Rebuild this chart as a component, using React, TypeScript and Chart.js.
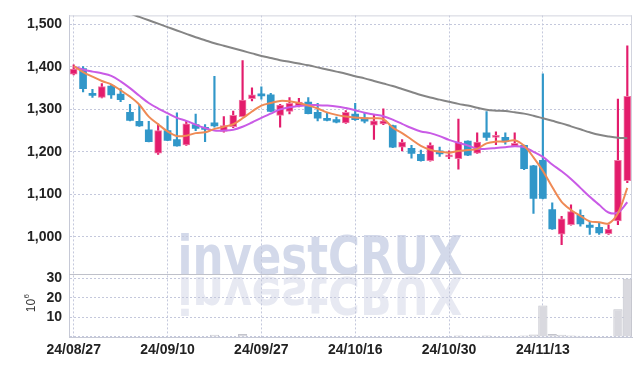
import React, { useEffect, useRef } from 'react';
import { Chart, registerables } from 'chart.js';

Chart.register(...registerables);

const dates = [
  '24/08/27', '24/08/28', '24/08/29', '24/08/30', '24/09/02', '24/09/03', '24/09/04', '24/09/05', '24/09/06', '24/09/09',
  '24/09/10', '24/09/11', '24/09/12', '24/09/13', '24/09/19', '24/09/20', '24/09/23', '24/09/24', '24/09/25', '24/09/26',
  '24/09/27', '24/09/30', '24/10/02', '24/10/04', '24/10/07', '24/10/08', '24/10/10', '24/10/11', '24/10/14', '24/10/15',
  '24/10/16', '24/10/17', '24/10/18', '24/10/21', '24/10/22', '24/10/23', '24/10/24', '24/10/25', '24/10/28', '24/10/29',
  '24/10/30', '24/10/31', '24/11/01', '24/11/04', '24/11/05', '24/11/06', '24/11/07', '24/11/08', '24/11/11', '24/11/12',
  '24/11/13', '24/11/14', '24/11/15', '24/11/18', '24/11/19', '24/11/20', '24/11/21', '24/11/22', '24/11/25', '24/11/26',
];

const tickDates = ['24/08/27', '24/09/10', '24/09/27', '24/10/16', '24/10/30', '24/11/13'];

const opens = [
  1383, 1396, 1336, 1328, 1355, 1336, 1293, 1272, 1252, 1197,
  1250, 1229, 1216, 1264, 1256, 1268, 1248, 1259, 1283, 1325,
  1334, 1334, 1286, 1295, 1309, 1317, 1293, 1279, 1276, 1268,
  1289, 1280, 1263, 1266, 1262, 1211, 1208, 1194, 1179, 1202,
  1188, 1184, 1225, 1197, 1245, 1234, 1234, 1213, 1215, 1167,
  1180, 1064, 1006, 1028, 1050, 1027, 1022, 1007, 1037, 1132,
];
const highs = [
  1405, 1401, 1347, 1361, 1358, 1349, 1312, 1310, 1272, 1266,
  1284, 1292, 1272, 1289, 1264, 1378, 1283, 1296, 1415, 1351,
  1353, 1338, 1312, 1328, 1326, 1328, 1314, 1291, 1282, 1297,
  1314, 1292, 1287, 1301, 1263, 1229, 1215, 1204, 1221, 1211,
  1202, 1277, 1226, 1245, 1295, 1247, 1245, 1245, 1216, 1168,
  1384, 1080, 1048, 1075, 1063, 1036, 1033, 1028, 1324, 1450,
];
const lows = [
  1381, 1341, 1328, 1327, 1326, 1318, 1273, 1260, 1223, 1194,
  1226, 1213, 1215, 1250, 1224, 1258, 1246, 1257, 1282, 1320,
  1324, 1294, 1258, 1289, 1306, 1289, 1273, 1273, 1268, 1267,
  1274, 1268, 1229, 1264, 1210, 1202, 1185, 1178, 1178, 1189,
  1184, 1159, 1191, 1196, 1227, 1217, 1218, 1212, 1158, 1055,
  1089, 1017, 981, 1027, 1025, 1005, 1005, 1005, 1028, 1127,
];
const closes = [
  1395, 1349, 1333, 1354, 1334, 1323, 1274, 1261, 1224, 1250,
  1227, 1214, 1266, 1255, 1253, 1261, 1262, 1286, 1322, 1334,
  1332, 1295, 1310, 1314, 1317, 1290, 1279, 1274, 1270, 1293,
  1276, 1272, 1273, 1273, 1211, 1223, 1196, 1179, 1216, 1195,
  1192, 1223, 1192, 1223, 1234, 1238, 1224, 1220, 1160, 1090,
  1090, 1018, 1042, 1059, 1030, 1022, 1009, 1018, 1180, 1331,
];
// volume in millions of shares
const volumes = [
  0.2, 0.2, 0.2, 0.2, 0.2, 0.2, 0.2, 0.2, 0.2, 0.2,
  0.2, 0.2, 0.2, 0.2, 0.2, 1.2, 0.2, 0.2, 1.6, 0.2,
  0.2, 0.2, 0.2, 0.2, 0.2, 0.2, 0.2, 0.2, 0.2, 0.2,
  0.2, 0.2, 0.2, 0.2, 0.2, 0.2, 0.2, 0.2, 0.2, 0.2,
  0.2, 0.8, 0.2, 0.2, 0.8, 0.2, 0.2, 0.2, 0.8, 1.3,
  16.2, 1.6, 1.2, 0.8, 0.7, 0.2, 0.2, 0.2, 14.2, 29.8,
];
const ma5 = [
  1402, 1388, 1377, 1367, 1359, 1345, 1330, 1311, 1283, 1265,
  1248, 1237, 1238, 1244, 1246, 1254, 1259, 1265, 1279, 1295,
  1309, 1315, 1320, 1319, 1315, 1309, 1302, 1293, 1287, 1283,
  1281, 1279, 1279, 1277, 1257, 1244, 1229, 1214, 1205, 1200,
  1198, 1202, 1204, 1207, 1220, 1224, 1224, 1227, 1214, 1187,
  1155, 1117, 1082, 1063, 1049, 1036, 1034, 1031, 1055, 1115,
];
const ma20 = [
  1401, 1394, 1389, 1385, 1379, 1366, 1350, 1332, 1315, 1302,
  1291, 1280, 1273, 1264, 1256, 1250, 1250, 1252, 1259, 1269,
  1280, 1290, 1300, 1305, 1308, 1310, 1310, 1309, 1307, 1303,
  1298, 1292, 1288, 1284, 1276, 1266, 1256, 1248, 1244, 1237,
  1228, 1221, 1215, 1207, 1207, 1209, 1211, 1213, 1211, 1200,
  1188, 1170, 1154, 1136, 1115, 1094, 1075, 1057, 1057, 1081,
];
const ma60 = [
  1590, 1578, 1566, 1555, 1545, 1535, 1526, 1518, 1510, 1502,
  1494, 1486, 1478, 1470, 1463, 1456, 1450, 1444, 1438, 1432,
  1426, 1421, 1416, 1412, 1408, 1404, 1399, 1394, 1389, 1384,
  1378, 1373, 1367, 1361, 1355, 1348, 1341, 1334, 1328, 1323,
  1318, 1313, 1309, 1304, 1299, 1297, 1296, 1293, 1290, 1285,
  1279, 1273, 1267, 1260, 1253, 1246, 1240, 1236, 1233, 1232,
];

const priceTicks = [1000, 1100, 1200, 1300, 1400, 1500];
const volumeTicks = [0, 10, 20, 30];

const FONT = "'Liberation Sans', 'DejaVu Sans Condensed', sans-serif";
const WM_FONT = "'DejaVu Sans Condensed', 'Liberation Sans', sans-serif";
const RED = '#e31c6c';
const RED_EDGE = '#f07aa6';
const BLUE = '#3197c9';
const GRID = '#c4c8dc';
const AXIS = '#c6c9d6';

const overlayPlugin = {
  id: 'overlay',
  beforeDraw(chart: any) {
    const { ctx, scales } = chart;
    const py = scales.y;
    const vy = scales.y2;
    const text = 'investCRUX';
    ctx.save();
    ctx.font = `bold 100px ${WM_FONT}`;
    ctx.textAlign = 'center';
    ctx.textBaseline = 'alphabetic';
    const w = ctx.measureText(text).width;
    const asc = ctx.measureText('C').actualBoundingBoxAscent || 72;
    const sx = 285 / w;
    const sy = 40 / asc;
    const cx = 320;
    const base = py.bottom;
    // reflection
    ctx.save();
    ctx.beginPath();
    ctx.rect(0, base, chart.width, vy.bottom - base);
    ctx.clip();
    ctx.translate(cx, base + 3);
    ctx.scale(sx, -sy * 0.95);
    ctx.fillStyle = '#e7e9f2';
    ctx.fillText(text, 0, 0);
    ctx.restore();
    ctx.translate(cx, base);
    ctx.scale(sx, sy);
    ctx.fillStyle = '#d3d9ea';
    ctx.fillText(text, 0, 0);
    ctx.restore();
  },
  beforeDatasetsDraw(chart: any) {
    const { ctx, chartArea, scales } = chart;
    ctx.save();
    ctx.lineWidth = 1;
    ctx.strokeStyle = '#d2d4de';
    ctx.beginPath();
    ctx.moveTo(chartArea.left, chartArea.top + 0.5);
    ctx.lineTo(chartArea.right, chartArea.top + 0.5);
    ctx.moveTo(chartArea.right - 0.5, chartArea.top);
    ctx.lineTo(chartArea.right - 0.5, chartArea.bottom);
    ctx.stroke();
    ctx.strokeStyle = '#bfc1ca';
    ctx.beginPath();
    const sep = Math.round(scales.y.bottom) + 0.5;
    ctx.moveTo(chartArea.left, sep);
    ctx.lineTo(chartArea.right, sep);
    ctx.stroke();
    ctx.restore();
  },
  afterDraw(chart: any) {
    const { ctx, scales } = chart;
    const vy = scales.y2;
    ctx.save();
    ctx.fillStyle = '#333333';
    ctx.translate(35, (vy.top + vy.bottom) / 2 + 7);
    ctx.rotate(-Math.PI / 2);
    ctx.textBaseline = 'alphabetic';
    ctx.textAlign = 'left';
    ctx.font = `12px ${FONT}`;
    ctx.fillText('10', 0, 0);
    const w = ctx.measureText('10').width;
    ctx.font = `8px ${FONT}`;
    ctx.fillText('6', w + 0.5, -6);
    ctx.restore();
  },
};

export default function App() {
  const canvasRef = useRef<HTMLCanvasElement | null>(null);

  useEffect(() => {
    const canvas = canvasRef.current;
    if (!canvas) return;
    const isUp = opens.map((o, i) => closes[i] >= o);
    const bodyColors = isUp.map((u) => (u ? RED : BLUE));
    const edgeColors = isUp.map((u) => (u ? RED_EDGE : BLUE));
    const edgeWidths = isUp.map((u) => (u ? 1 : 0));

    const chart = new Chart(canvas, {
      type: 'bar',
      data: {
        labels: dates,
        datasets: [
          {
            type: 'line',
            label: 'MA5',
            data: ma5,
            yAxisID: 'y',
            borderColor: '#ef8a55',
            borderWidth: 2,
            pointRadius: 0,
            tension: 0.35,
            order: 0,
          } as any,
          {
            type: 'line',
            label: 'MA20',
            data: ma20,
            yAxisID: 'y',
            borderColor: '#c95be6',
            borderWidth: 2,
            pointRadius: 0,
            tension: 0.35,
            order: 0,
          } as any,
          {
            type: 'line',
            label: 'MA60',
            data: ma60,
            yAxisID: 'y',
            borderColor: '#858585',
            borderWidth: 2,
            pointRadius: 0,
            tension: 0.35,
            order: 0,
          } as any,
          {
            type: 'bar',
            label: 'body',
            data: opens.map((o, i) => [Math.min(o, closes[i]), Math.max(o, closes[i])]),
            yAxisID: 'y',
            backgroundColor: bodyColors,
            borderColor: edgeColors,
            borderWidth: edgeWidths,
            borderSkipped: false,
            barThickness: 7,
            minBarLength: 2,
            grouped: false,
            order: 1,
          } as any,
          {
            type: 'bar',
            label: 'wick',
            data: lows.map((l, i) => [l, highs[i]]),
            yAxisID: 'y',
            backgroundColor: bodyColors,
            barThickness: 1.5,
            grouped: false,
            order: 2,
          } as any,
          {
            type: 'bar',
            label: 'volume',
            data: volumes,
            yAxisID: 'y2',
            backgroundColor: '#d9d9df',
            borderColor: '#c3c4cc',
            borderWidth: 1,
            borderSkipped: 'bottom',
            barPercentage: 1,
            categoryPercentage: 0.98,
            grouped: false,
            order: 3,
          } as any,
        ],
      },
      options: {
        animation: false,
        responsive: true,
        maintainAspectRatio: false,
        devicePixelRatio: 1,
        layout: { padding: { left: 0, top: 9, right: 10, bottom: 0 } },
        plugins: {
          legend: { display: false },
          tooltip: { enabled: false },
        },
        scales: {
          x: {
            type: 'category',
            offset: true,
            afterBuildTicks: (s: any) => {
              s.ticks = s.ticks.filter((t: any) => tickDates.includes(dates[t.value]));
            },
            afterFit: (s: any) => {
              s.height = 29;
            },
            ticks: {
              autoSkip: false,
              maxRotation: 0,
              minRotation: 0,
              padding: 5,
              color: '#222222',
              font: { family: FONT, size: 14, weight: 'bold' },
            },
            grid: { offset: false, drawTicks: false, color: GRID },
            border: { display: true, color: AXIS, dash: [2, 2] },
          },
          y: {
            type: 'linear',
            position: 'left',
            stack: 'panes',
            stackWeight: 4.07,
            weight: 2,
            min: 913,
            max: 1521.5,
            afterBuildTicks: (s: any) => {
              s.ticks = priceTicks.map((v) => ({ value: v }));
            },
            afterFit: (s: any) => {
              s.width = 69;
            },
            ticks: {
              autoSkip: false,
              padding: 7,
              color: '#222222',
              font: { family: FONT, size: 14, weight: 'bold' },
              callback: (v: any) => Number(v).toLocaleString('en-US'),
            },
            grid: { drawTicks: false, color: GRID },
            border: { display: true, color: AXIS, dash: [2, 2] },
          },
          y2: {
            type: 'linear',
            position: 'left',
            stack: 'panes',
            stackWeight: 1,
            weight: 1,
            min: 0,
            max: 32.5,
            afterBuildTicks: (s: any) => {
              s.ticks = volumeTicks.map((v) => ({ value: v }));
            },
            afterFit: (s: any) => {
              s.width = 69;
            },
            ticks: {
              autoSkip: false,
              padding: 7,
              color: '#222222',
              font: { family: FONT, size: 14, weight: 'bold' },
              callback: (v: any) => (Number(v) === 0 ? '' : String(v)),
            },
            grid: { drawTicks: false, color: GRID },
            border: { display: true, color: AXIS, dash: [2, 2] },
          },
        },
      } as any,
      plugins: [overlayPlugin],
    });

    return () => {
      chart.destroy();
    };
  }, []);

  return (
    <div style={{ position: 'absolute', left: 0, top: 0, width: 642, height: 366, background: '#ffffff' }}>
      <canvas ref={canvasRef} />
    </div>
  );
}
